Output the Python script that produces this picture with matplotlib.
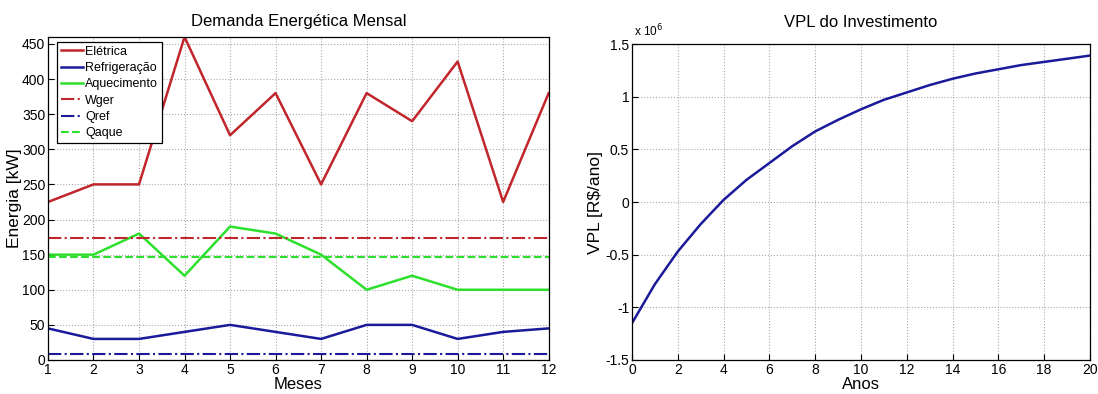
import matplotlib.pyplot as plt

plt.rcParams["font.family"] = ["Liberation Sans Narrow", "Liberation Sans", "DejaVu Sans"]

meses = list(range(1, 13))
eletrica = [225, 250, 250, 460, 320, 380, 250, 380, 340, 425, 225, 380]
refrigeracao = [45, 30, 30, 40, 50, 40, 30, 50, 50, 30, 40, 45]
aquecimento = [150, 150, 180, 120, 190, 180, 150, 100, 120, 100, 100, 100]
wger = 174
qref = 8
qaque = 147

anos = list(range(0, 21))
vpl = [-1.15, -0.78, -0.47, -0.21, 0.02, 0.21, 0.37, 0.53, 0.67, 0.78, 0.88,
       0.97, 1.04, 1.11, 1.17, 1.22, 1.26, 1.30, 1.33, 1.36, 1.39]

RED = "#c0262b"
BLUE = "#1a1a9a"
GREEN = "#2ee02e"

fig = plt.figure(figsize=(10.98, 3.94), dpi=100)
ax1 = fig.add_axes([0.0437, 0.0863, 0.456, 0.82])
ax2 = fig.add_axes([0.5756, 0.0863, 0.417, 0.802])


def matlab_style(ax):
    ax.grid(True, linestyle=":", color="#aaaaaa", linewidth=0.8)
    ax.tick_params(direction="in", labelsize=10, length=4, pad=2, top=False, right=False)
    for s in ax.spines.values():
        s.set_linewidth(0.9)


# left panel
ax1.plot(meses, eletrica, color=RED, lw=1.8, label="Elétrica")
ax1.plot(meses, refrigeracao, color=BLUE, lw=1.8, label="Refrigeração")
ax1.plot(meses, aquecimento, color=GREEN, lw=1.8, label="Aquecimento")
ax1.plot(meses, [wger] * len(meses), color=RED, lw=1.5, ls="-.", label="Wger")
ax1.plot(meses, [qref] * len(meses), color=BLUE, lw=1.5, ls="-.", label="Qref")
ax1.plot(meses, [qaque] * len(meses), color=GREEN, lw=1.5, ls="--", label="Qaque")
ax1.set_xlim(1, 12)
ax1.set_ylim(0, 460)
ax1.set_xticks(meses)
ax1.set_yticks(range(0, 451, 50))
ax1.set_title("Demanda Energética Mensal", fontsize=12, pad=8)
ax1.set_xlabel("Meses", fontsize=12, labelpad=0)
ax1.set_ylabel("Energia [kW]", fontsize=12.5, labelpad=0)
matlab_style(ax1)
leg = ax1.legend(loc="upper left", bbox_to_anchor=(0.018, 0.985), fontsize=9,
                 frameon=True, fancybox=False, framealpha=1, edgecolor="black",
                 handlelength=1.8, handletextpad=0.15, borderpad=0.3, labelspacing=0.35,
                 borderaxespad=0)
leg.get_frame().set_linewidth(0.9)

# right panel
ax2.plot(anos, [v * 1e6 for v in vpl], color=BLUE, lw=1.8)
ax2.set_xlim(0, 20)
ax2.set_ylim(-1.5e6, 1.5e6)
ax2.set_xticks(range(0, 21, 2))
ax2.set_yticks([-1.5e6, -1e6, -0.5e6, 0, 0.5e6, 1e6, 1.5e6])
ax2.set_yticklabels(["-1.5", "-1", "-0.5", "0", "0.5", "1", "1.5"])
ax2.text(0.005, 1.015, r"x 10$^6$", transform=ax2.transAxes, fontsize=8.5,
         ha="left", va="bottom")
ax2.set_title("VPL do Investimento", fontsize=12, pad=12)
ax2.set_xlabel("Anos", fontsize=12, labelpad=0)
ax2.set_ylabel("VPL [R$/ano]", fontsize=12.5, labelpad=2)
matlab_style(ax2)

fig.savefig("out.png", dpi=100)
